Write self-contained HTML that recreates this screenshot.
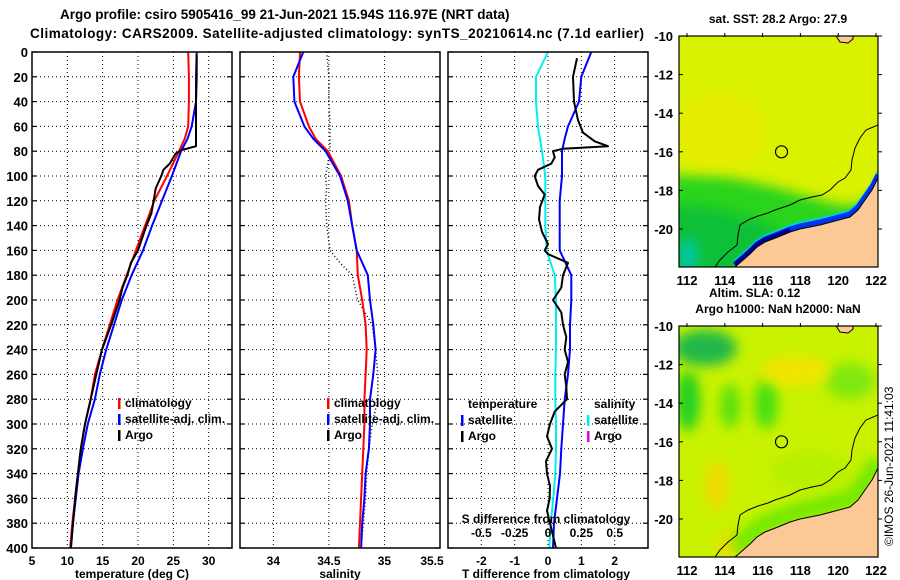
<!DOCTYPE html>
<html><head><meta charset="utf-8"><style>
html,body{margin:0;padding:0;background:#fff;}
svg{display:block;font-family:"Liberation Sans",sans-serif;font-weight:bold;}
</style></head><body>
<svg id="fig" width="900" height="580" viewBox="0 0 900 580" xmlns="http://www.w3.org/2000/svg">
<defs>
<filter id="blur6" x="-50%" y="-50%" width="200%" height="200%"><feGaussianBlur stdDeviation="6"/></filter>
<clipPath id="clipTop"><rect x="679" y="36" width="199" height="231"/></clipPath>
<clipPath id="clipBot"><rect x="679" y="326" width="199" height="231"/></clipPath>
</defs>
<text x="60" y="19" font-size="13.5">Argo profile: csiro 5905416_99 21-Jun-2021 15.94S 116.97E (NRT data)</text>
<text x="30" y="38" font-size="13.5" textLength="614">Climatology: CARS2009. Satellite-adjusted climatology: synTS_20210614.nc (7.1d earlier)</text>
<g id="panels"></g>
<g id="maps"></g>
<text transform="translate(893,546) rotate(-90)" font-size="12" font-weight="normal">©IMOS 26-Jun-2021 11:41:03</text>
</svg>
<script>
// ---- data ----
const depths = [0,20,40,60,70,80,100,120,140,160,180,200,220,240,260,280,300,320,340,360,380,400];
const tempClim = [27.1,27.2,27.2,27.1,26.6,25.8,24.1,22.3,21.0,19.7,18.4,17.1,16.0,14.9,13.9,13.3,12.5,11.9,11.5,11.1,10.7,10.4];
const tempSat  = [28.3,28.2,28.2,27.6,27.0,26.1,24.8,23.4,22.0,20.7,19.1,17.7,16.6,15.5,14.6,13.9,12.9,12.2,11.6,11.2,10.8,10.5];
const argoDepths = [2,20,40,60,76,79,82,90,95,100,110,120,130,140,150,160,170,180,190,200,220,240,260,280,300,320,340,360,380,400];
const argoTemp  = [28.3,28.3,28.2,28.2,28.2,26.2,25.3,24.5,23.6,23.3,22.5,22.2,21.9,21.2,20.6,20.0,19.0,18.5,17.8,17.4,16.2,14.9,14.1,13.3,12.5,11.9,11.5,11.1,10.8,10.5];
const salClim = [34.24,34.23,34.24,34.32,34.38,34.49,34.61,34.68,34.71,34.75,34.76,34.80,34.83,34.84,34.83,34.82,34.82,34.81,34.80,34.79,34.78,34.77];
const salSat  = [34.27,34.18,34.19,34.28,34.36,34.47,34.60,34.67,34.71,34.75,34.85,34.87,34.90,34.92,34.90,34.87,34.87,34.86,34.83,34.82,34.80,34.79];
const argoSalDepths = [0,20,40,60,80,100,110,120,140,160,170,180,200,220,240,260,280,300,320,340,360,380,400];
const argoSal = [34.48,34.50,34.50,34.51,34.51,34.47,34.48,34.47,34.48,34.51,34.60,34.71,34.76,34.89,34.92,34.94,34.94,34.89,34.86,34.84,34.83,34.81,34.79];
const tDiffSat = [1.3,1.0,0.93,0.6,0.5,0.42,0.42,0.35,0.35,0.35,0.7,0.7,0.66,0.66,0.6,0.5,0.45,0.4,0.36,0.27,0.18,0.15];
const sDiffSat = [0,-0.09,-0.09,-0.075,-0.06,-0.045,-0.02,-0.02,-0.02,-0.01,0.05,0.06,0.06,0.06,0.055,0.055,0.06,0.06,0.055,0.04,0.02,0.01];
const argoDiffDepths = [5,20,40,55,65,72,76,78,80,85,90,95,100,108,115,125,135,145,155,160,163,170,180,190,200,210,220,230,240,250,260,270,280,290,300,310,320,330,340,350,360,370,380,390,400];
const argoTDiff = [0.87,0.75,0.78,0.9,1.05,1.4,1.8,0.45,0.15,0.2,0.1,-0.3,-0.4,-0.3,-0.1,-0.24,-0.27,-0.18,0,-0.1,0,0.6,0.45,0.4,0.15,0.4,0.45,0.55,0.5,0.6,0.5,0.55,0.57,0.2,0.06,-0.03,0.12,-0.06,-0.03,0.06,0.05,-0.03,0.06,0.15,0.24];
const depthTicks = [0,20,40,60,80,100,120,140,160,180,200,220,240,260,280,300,320,340,360,380,400];
const tempTicks = [5,10,15,20,25,30];
const salTicks = [34,34.5,35,35.5];
const salTickLabels = ["34","34.5","35","35.5"];
const tDiffTicks = [-2,-1,0,1,2];
const sDiffTicks = [-0.5,-0.25,0,0.25,0.5];
const sDiffLabels = ["-0.5","-0.25","0","0.25","0.5"];
const latTicks = [-10,-12,-14,-16,-18,-20];
const lonTicks = [112,114,116,118,120,122];

const NS="http://www.w3.org/2000/svg";
function mk(tag,attrs,parent,txt){const e=document.createElementNS(NS,tag);for(const k in attrs)e.setAttribute(k,attrs[k]);if(txt!==undefined)e.textContent=txt;parent.appendChild(e);return e;}
const Y0=52,Y1=548;
const yD = d => Y0 + d*(Y1-Y0)/400;
function lin(d0,d1,r0,r1){return v=>r0+(v-d0)*(r1-r0)/(d1-d0);}
const xT = lin(5,33.3,32,232);
const xS = lin(33.7,35.5,240,440);
const xTD = lin(-3,3,448,648);
const xSD = lin(-0.75,0.75,448,648);
const panels=document.getElementById('panels');

function frame(name){
  const g=mk('g',{},panels);
  
  
  return g;
}
function grid(g,x0,x1,xs){
  depthTicks.forEach(d=>{if(d>0&&d<400){const l=mk('line',{x1:x0,x2:x1,y1:yD(d),y2:yD(d),stroke:'#000','stroke-width':1,'stroke-dasharray':'1,3'},g);
    }});
  xs.forEach(x=>{const l=mk('line',{x1:x,x2:x,y1:Y0,y2:Y1,stroke:'#000','stroke-width':1,'stroke-dasharray':'1,3'},g);
    });
}
function border(g,x0,x1){
  const r=mk('rect',{x:x0,y:Y0,width:x1-x0,height:Y1-Y0,fill:'none',stroke:'#000','stroke-width':1.5},g);
  
  depthTicks.forEach(d=>{
    mk('line',{x1:x0,x2:x0+5,y1:yD(d),y2:yD(d),stroke:'#000','stroke-width':1.2},g);
    mk('line',{x1:x1-5,x2:x1,y1:yD(d),y2:yD(d),stroke:'#000','stroke-width':1.2},g);
  });
}
function line(g,xs,ys,color,name,w,dash){
  const pts=xs.map((v,i)=>v.toFixed(1)+','+ys[i].toFixed(1)).join(' ');
  const a={points:pts,fill:'none',stroke:color,'stroke-width':w||2,'stroke-linejoin':'round'};
  if(dash)a['stroke-dasharray']=dash;
  const p=mk('polyline',a,g);
  
}
function legend(g,x,y,color,label,name){
  const r=mk('rect',{x:x,y:y-8,width:2.5,height:11,fill:color},g);
  
  const t=mk('text',{x:x+7,y:y+1,'font-size':12},g,label);
  
}

// Panel 1
let g=frame('temperature-panel');
grid(g,32,232,tempTicks.slice(1).map(xT));
line(g,tempClim.map(xT),depths.map(yD),'#f00','temp-climatology-line');
line(g,tempSat.map(xT),depths.map(yD),'#00f','temp-satellite-line');
line(g,argoTemp.map(xT),argoDepths.map(yD),'#000','temp-argo-line');
border(g,32,232);
depthTicks.forEach(d=>{const t=mk('text',{x:28,y:yD(d)+5,'font-size':13,'text-anchor':'end'},g,String(d));
  });
tempTicks.forEach(v=>{const t=mk('text',{x:xT(v),y:565,'font-size':12,'text-anchor':'middle'},g,String(v));
  });
let t=mk('text',{x:132,y:578,'font-size':12,'text-anchor':'middle'},g,'temperature (deg C)');

legend(g,118,406,'#f00','climatology','legend-climatology');
legend(g,118,422,'#00f','satellite-adj. clim.','legend-satellite');
legend(g,118,438,'#000','Argo','legend-argo');

// Panel 2
g=frame('salinity-panel');
grid(g,240,440,salTicks.slice(0,3).map(xS));
line(g,argoSal.map(xS),argoSalDepths.map(yD),'#000','sal-argo-line',1.5,'1,2.5');
line(g,salClim.map(xS),depths.map(yD),'#f00','sal-climatology-line');
line(g,salSat.map(xS),depths.map(yD),'#00f','sal-satellite-line');
border(g,240,440);
salTicks.forEach((v,i)=>{const tt=mk('text',{x:Math.min(xS(v),432),y:565,'font-size':12,'text-anchor':'middle'},g,salTickLabels[i]);
  });
t=mk('text',{x:340,y:578,'font-size':12,'text-anchor':'middle'},g,'salinity');

legend(g,327,406,'#f00','climatology','legend-climatology');
legend(g,327,422,'#00f','satellite-adj. clim.','legend-satellite');
legend(g,327,438,'#000','Argo','legend-argo');

// Panel 3
g=frame('difference-panel');
grid(g,448,648,tDiffTicks.map(xTD));
line(g,sDiffSat.map(xSD),depths.map(yD),'#00f0f0','s-diff-satellite-line');
line(g,tDiffSat.map(xTD),depths.map(yD),'#00f','t-diff-satellite-line');
line(g,argoTDiff.map(xTD),argoDiffDepths.map(yD),'#000','t-diff-argo-line');
border(g,448,648);
tDiffTicks.forEach(v=>{const tt=mk('text',{x:xTD(v),y:565,'font-size':12,'text-anchor':'middle'},g,String(v));
  });
sDiffTicks.forEach((v,i)=>{const tt=mk('text',{x:xSD(v),y:537,'font-size':12,'text-anchor':'middle'},g,sDiffLabels[i]);
  });
t=mk('text',{x:546,y:523,'font-size':12,'text-anchor':'middle'},g,'S difference from climatology');

t=mk('text',{x:546,y:578,'font-size':12,'text-anchor':'middle'},g,'T difference from climatology');

t=mk('text',{x:468,y:408,'font-size':12},g,'temperature');

t=mk('text',{x:594,y:408,'font-size':12},g,'salinity');

legend(g,461,423,'#00f','satellite','legend-t-satellite');
legend(g,461,439,'#000','Argo','legend-t-argo');
legend(g,587,423,'#00f0f0','satellite','legend-s-satellite');
legend(g,587,439,'#e000e0','Argo','legend-s-argo');

// ---- maps ----
const maps=document.getElementById('maps');
const xLon = lin(112,122,687,876);
const coast=[[878,178],[872,190],[865,200],[858,210],[850,217],[835,221],[820,225],[800,229],[790,232],[778,237],[765,242],[757,247],[750,254],[742,261],[735,267]];
const isle=[[836,36],[840,42],[848,43],[853,39],[853,36]];
const contour=[[878,125],[866,130],[860,138],[855,148],[852,160],[851,170],[845,178],[838,182],[830,190],[822,195],[812,197],[800,200],[790,205],[775,210],[768,213],[758,216],[748,220],[740,225],[738,235],[737,245],[728,252],[720,260],[715,267]];
function pts(arr,dy){return arr.map(p=>p[0]+','+(p[1]+dy)).join(' ');}
function mapPanel(y0,name,isTop){
  const g=mk('g',{},maps);
  
  const dy=y0-36;
  const c=mk('g',{'clip-path':isTop?'url(#clipTop)':'url(#clipBot)'},g);
  const yLat = lin(-10,-20,y0,y0+193);
  if(isTop){
    mk('rect',{x:679,y:y0,width:199,height:231,fill:'#d8f200'},c);
    mk('ellipse',{cx:720,cy:y0+95,rx:45,ry:40,fill:'#e6ec00',filter:'url(#blur6)'},c);
    mk('polygon',{points:pts([[670,175],[730,178],[770,186],[800,194],[830,203],[850,206],[870,200],[885,195],[885,280],[670,280]],dy),fill:'#2cd41c',filter:'url(#blur6)'},c);
    mk('polygon',{points:pts([[670,205],[720,210],[760,222],[780,232],[780,280],[670,280]],dy),fill:'#10c038',filter:'url(#blur6)'},c);
    mk('rect',{x:679,y:y0+205,width:18,height:30,fill:'#00c8a8',filter:'url(#blur6)'},c);
    mk('polyline',{points:pts(coast,dy-6),fill:'none',stroke:'#00d0d0','stroke-width':3},c);
    mk('polyline',{points:pts(coast,dy-3),fill:'none',stroke:'#0030f0','stroke-width':5},c);
    mk('polyline',{points:pts([[790,232],[778,237],[765,242],[757,247],[750,254],[742,261],[735,267]],dy-2),fill:'none',stroke:'#000090','stroke-width':5},c);
  } else {
    mk('rect',{x:679,y:y0,width:199,height:231,fill:'#c8f200'},c);
    const blobs=[[705,y0+22,32,18,'#20b848'],[688,y0+75,12,30,'#20d020'],[730,y0+80,10,22,'#58e010'],[766,y0+78,12,25,'#48e010'],[850,y0+55,25,18,'#80e810'],[795,y0+45,35,15,'#f0e400'],[717,y0+160,12,25,'#f0dc00'],[730,y0+220,12,14,'#f0dc00'],[810,y0+145,40,20,'#b8f000']];
    blobs.forEach(b=>{const e=mk('ellipse',{cx:b[0],cy:b[1],rx:b[2],ry:b[3],fill:b[4],filter:'url(#blur6)'},c);
      });
    mk('polyline',{points:pts(coast,dy-8),fill:'none',stroke:'#70e800','stroke-width':18,filter:'url(#blur6)'},c);
  }
  const land=mk('polygon',{points:pts(coast.concat([[878,267]]),dy),fill:'#fcc896'},c);
  
  mk('polyline',{points:pts(coast,dy),fill:'none',stroke:'#000','stroke-width':1},c);
  mk('polygon',{points:pts(isle,dy),fill:'#fcc896',stroke:'#000','stroke-width':1},c);
  const ct=mk('polyline',{points:pts(contour,dy),fill:'none',stroke:'#000','stroke-width':1},c);
  
  const m=mk('circle',{cx:xLon(117),cy:yLat(-16),r:6,fill:'none',stroke:'#000','stroke-width':1.2},g);
  
  mk('rect',{x:679,y:y0,width:199,height:231,fill:'none',stroke:'#000','stroke-width':1.2},g);
  latTicks.forEach(v=>{
    mk('line',{x1:679,x2:683,y1:yLat(v),y2:yLat(v),stroke:'#000'},g);
    mk('line',{x1:878,x2:882,y1:yLat(v),y2:yLat(v),stroke:'#000'},g);
    const tt=mk('text',{x:673,y:yLat(v)+5,'font-size':13,'text-anchor':'end'},g,String(v));
    });
  lonTicks.forEach(v=>{
    mk('line',{x1:xLon(v),x2:xLon(v),y1:y0-3,y2:y0+1,stroke:'#000'},g);
    const tt=mk('text',{x:xLon(v),y:y0+249,'font-size':13,'text-anchor':'middle'},g,String(v));
    });
}
mapPanel(36,'sst-map',true);
mapPanel(326,'sla-map',false);
t=mk('text',{x:778,y:23,'font-size':12,'text-anchor':'middle'},maps,'sat. SST: 28.2 Argo: 27.9');

t=mk('text',{x:709,y:297,'font-size':12},maps,'Altim. SLA: 0.12');

t=mk('text',{x:778,y:313,'font-size':12,'text-anchor':'middle'},maps,'Argo h1000: NaN h2000: NaN');

</script>
</body></html>
